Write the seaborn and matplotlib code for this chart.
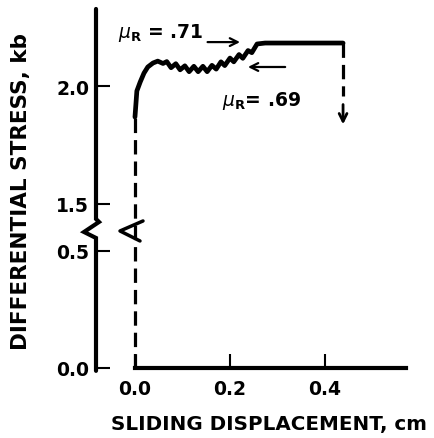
import numpy as np
import seaborn as sns
import matplotlib
matplotlib.use("Agg")
import matplotlib.pyplot as plt

# loading (dashed), friction curve (solid), unloading (dashed)
load_x = [0.0, 0.0]
load_y = [0.0, 1.87]

curve_x = [0.0, 0.002, 0.004, 0.011, 0.019, 0.027, 0.038, 0.048, 0.059, 0.067,
           0.076, 0.086, 0.095, 0.105, 0.114, 0.124, 0.133, 0.143, 0.152, 0.162,
           0.171, 0.181, 0.189, 0.200, 0.208, 0.219, 0.227, 0.238, 0.246, 0.257,
           0.274, 0.438]
curve_y = [1.87, 1.925, 1.981, 2.019, 2.057, 2.083, 2.100, 2.108, 2.098, 2.106,
           2.080, 2.097, 2.071, 2.088, 2.063, 2.086, 2.063, 2.086, 2.063, 2.090,
           2.074, 2.105, 2.089, 2.121, 2.105, 2.136, 2.120, 2.153, 2.144, 2.181,
           2.185, 2.185]

unload_x = [0.438, 0.438]
unload_y = [2.185, 1.96]

xticks = [0.0, 0.2, 0.4]
xtick_labels = ["0.0", "0.2", "0.4"]
yticks = [0.0, 0.5, 1.5, 2.0]
ytick_labels = ["0.0", "0.5", "1.5", "2.0"]

mu_peak = r"$\mu_{\mathbf{R}}$ = .71"
mu_resid = r"$\mu_{\mathbf{R}}$= .69"

# broken stress axis: squeeze 0.6 - 1.41 kb to almost nothing
LO, HI, K = 0.6, 1.41, 0.01
SHIFT = HI - LO - (HI - LO) * K


def fwd(y):
    y = np.asarray(y, dtype=float)
    return np.where(y <= LO, y, np.where(y < HI, LO + (y - LO) * K, y - SHIFT))


def inv(t):
    t = np.asarray(t, dtype=float)
    mid = LO + (HI - LO) * K
    return np.where(t <= LO, t, np.where(t < mid, LO + (t - LO) / K, t + SHIFT))


sns.set_style("ticks")
plt.rcParams["font.family"] = ["DejaVu Sans"]
plt.rcParams["mathtext.fontset"] = "dejavusans"
plt.rcParams["text.color"] = "black"
plt.rcParams["axes.labelcolor"] = "black"

fig = plt.figure(figsize=(4.35, 4.39), dpi=100)
ax = fig.add_axes([0.2207, 0.1595, 0.7121, 0.8178])
ax.set_yscale("function", functions=(fwd, inv))

sns.lineplot(x=load_x, y=load_y, estimator=None, sort=False, color="black",
             lw=2.3, linestyle=(0, (4.5, 2.2)), ax=ax)
sns.lineplot(x=curve_x, y=curve_y, estimator=None, sort=False, color="black",
             lw=3.4, ax=ax)
sns.lineplot(x=unload_x, y=unload_y, estimator=None, sort=False, color="black",
             lw=2.3, linestyle=(0, (4.5, 2.2)), ax=ax)

ax.annotate("", xy=(0.438, 1.827), xytext=(0.438, 1.935),
            arrowprops=dict(arrowstyle="->", lw=2, color="black",
                            mutation_scale=14))
ax.annotate("", xy=(0.227, 2.189), xytext=(0.147, 2.189),
            arrowprops=dict(arrowstyle="->", lw=1.6, color="black",
                            mutation_scale=14))
ax.annotate("", xy=(0.232, 2.083), xytext=(0.322, 2.083),
            arrowprops=dict(arrowstyle="->", lw=1.6, color="black",
                            mutation_scale=14))
ax.text(-0.036, 2.21, mu_peak, fontsize=13.5, fontweight="bold",
        color="black", va="baseline", ha="left")
ax.text(0.183, 1.921, mu_resid, fontsize=13.5, fontweight="bold",
        color="black", va="baseline", ha="left")

ax.set_xlim(-0.082, 0.57)
ax.set_ylim(0, 2.33)
ax.set_xticks(xticks)
ax.set_xticklabels(xtick_labels)
ax.set_yticks(yticks)
ax.set_yticklabels(ytick_labels)
ax.minorticks_off()

for s in ["top", "right", "left"]:
    ax.spines[s].set_visible(False)
ax.spines["bottom"].set_bounds(0, 0.57)
ax.spines["bottom"].set_linewidth(3)
ax.spines["bottom"].set_color("black")

# hand-drawn stress axis with the break
ax.plot([0, 0, 0.0097, -0.0387, 0, 0], [1.0, 0.415, 0.4067, 0.3788, 0.3621, -0.008],
        transform=ax.transAxes, color="black", lw=3, clip_on=False,
        solid_joinstyle="miter")
# break mark on the loading line
ax.plot([0.1517, 0.0775, 0.142], [0.4095, 0.3816, 0.3538],
        transform=ax.transAxes, color="black", lw=2.5, clip_on=False)

ax.tick_params(axis="both", direction="in", length=10, width=1.5,
               labelsize=13.5, colors="black")
ax.tick_params(axis="x", pad=8)
ax.tick_params(axis="y", pad=5)
for lab in ax.get_xticklabels() + ax.get_yticklabels():
    lab.set_fontweight("bold")

ax.set_xlabel("SLIDING DISPLACEMENT, cm", fontsize=14.3, fontweight="bold",
              color="black")
ax.xaxis.set_label_coords(0.559, -0.128)
ax.set_ylabel("DIFFERENTIAL STRESS, kb", fontsize=15.5, fontweight="bold",
              color="black")
ax.yaxis.set_label_coords(-0.21, 0.494)

fig.savefig("out.png", dpi=100)
